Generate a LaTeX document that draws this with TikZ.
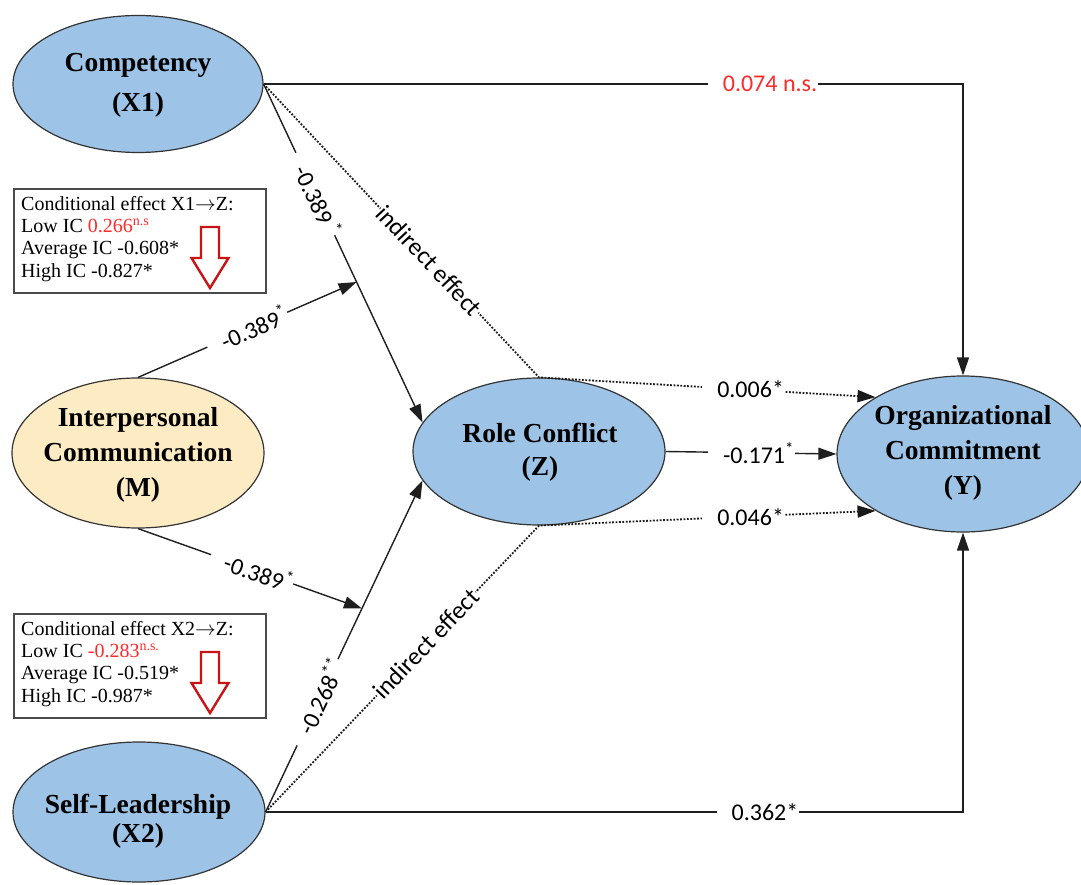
\documentclass[tikz,border=0pt]{standalone}
\usepackage{fontspec}
\setmainfont{Liberation Serif}
\newfontfamily\lblfont{Carlito}
\usetikzlibrary{arrows.meta,shapes.geometric,calc}
\definecolor{nodeblue}{HTML}{9DC3E6}
\definecolor{nodetan}{HTML}{FDEBC3}
\definecolor{edgegray}{HTML}{333333}
\definecolor{nsred}{HTML}{FF2A2A}
\definecolor{arrowred}{HTML}{C81414}
\definecolor{boxgray}{HTML}{4A4A4A}
\tikzset{
  latent/.style={ellipse, draw=edgegray, line width=1.2pt, fill=nodeblue, inner sep=0pt},
  ntext/.style={align=center, font=\bfseries\fontsize{27.5}{#1}\selectfont, inner sep=0pt},
  ntext/.default=35,
  con/.style={line width=1.4pt, draw=black!88},
  arrowend/.style={-{Triangle[length=18pt,width=12pt]}},
  dotline/.style={line width=1.8pt, dash pattern=on 1.8pt off 1.6pt, draw=black!90},
  lbl/.style={font=\lblfont\fontsize{24}{26}\selectfont, fill=white, inner sep=1pt},
  lblpad/.style={lbl, execute at begin node={\hspace*{14pt}}},
  cbox/.style={draw=boxgray, line width=2pt, fill=white, anchor=north west,
    minimum width=252pt, minimum height=104pt, inner sep=0pt},
  btext/.style={font=\fontsize{20}{22}\selectfont, anchor=base west, inner sep=0pt},
  hollow/.style={draw=arrowred, line width=2.4pt, fill=white, line join=miter}
}
\begin{document}
\begin{tikzpicture}[x=1pt,y=-1pt]
\useasboundingbox (0,0) rectangle (1081,885);
% latent variables
\node[latent, minimum width=250pt, minimum height=137pt] (X1) at (138,84) {};
\node[latent, fill=nodetan, minimum width=252pt, minimum height=150pt] (M) at (138,453) {};
\node[latent, minimum width=252pt, minimum height=140pt] (X2) at (139,812) {};
\node[latent, minimum width=252pt, minimum height=147pt] (Z) at (539,451.5) {};
\node[latent, minimum width=252pt, minimum height=156pt] (Y) at (963,454) {};
\node[ntext=40] (X1t) at (138,85) {Competency\\(X1)};
\node[ntext=35] (Mt) at (138,455) {Interpersonal\\Communication\\(M)};
\node[ntext=29] (X2t) at (138,821) {Self-Leadership\\(X2)};
\node[ntext=33] (Zt) at (540,452) {Role Conflict\\(Z)};
\node[ntext=35] (Yt) at (963,453) {Organizational\\Commitment\\(Y)};
% moderation targets
\coordinate (p1) at ($(X1.east)!0.585!(Z.166)$);
\coordinate (p2) at ($(X2.east)!0.614!(Z.194)$);
% paths
\draw[con, arrowend] (X1.east) -- node[lblpad, sloped, pos=0.325]{-0.389\,\textsuperscript{*}} (Z.166);
\draw[con, arrowend] (M.north) -- node[lblpad, sloped, pos=0.5]{-0.389\textsuperscript{*}} (p1);
\draw[con, arrowend] (M.south) -- node[lblpad, sloped, pos=0.51]{-0.389\textsuperscript{*}} (p2);
\draw[con, arrowend] (X2.east) -- node[lblpad, sloped, pos=0.331]{-0.268\textsuperscript{**}} (Z.194);
\draw[con, arrowend] (Z.east) -- node[lblpad, pos=0.503]{-0.171\textsuperscript{*}} (Y.west);
\draw[con, arrowend] (X1.east) -- node[lblpad, text=nsred, pos=0.714]{0.074 n.s.} (X1.east -| Y.north) -- (Y.north);
\draw[con, arrowend] (X2.east) -- node[lblpad, pos=0.706]{0.362*} (X2.east -| Y.south) -- (Y.south);
\draw[dotline, arrowend] (X1.east) -- node[lbl, sloped, pos=0.602, font=\lblfont\fontsize{25}{26}\selectfont]{indirect effect} (Z.north) -- node[lblpad, pos=0.608]{0.006*} (Y.147);
\draw[dotline, arrowend] (X2.east) -- node[lbl, sloped, pos=0.587, font=\lblfont\fontsize{25}{26}\selectfont]{indirect effect} (Z.south) -- node[lblpad, pos=0.608]{0.046*} (Y.213);
% conditional effect boxes
\node[cbox] (B1) at (13,188) {};
\node[btext] (B1a) at (21,210.5) {Conditional effect X1$\rightarrow$Z:};
\node[btext] (B1b) at (21,232.7) {Low IC \textcolor{nsred}{0.266\textsuperscript{n.s}}};
\node[btext] (B1c) at (21,254.9) {Average IC -0.608*};
\node[btext] (B1d) at (21,277.1) {High IC -0.827*};
\draw[hollow] (201,227) -- (219,227) -- (219,258) -- (228.5,258) -- (210,288) -- (191.5,258) -- (201,258) -- cycle;
\node[cbox] (B2) at (13,613) {};
\node[btext] (B2a) at (21,635.5) {Conditional effect X2$\rightarrow$Z:};
\node[btext] (B2b) at (21,657.7) {Low IC \textcolor{nsred}{-0.283\textsuperscript{n.s.}}};
\node[btext] (B2c) at (21,679.9) {Average IC -0.519*};
\node[btext] (B2d) at (21,702.1) {High IC -0.987*};
\draw[hollow] (201,652) -- (219,652) -- (219,683) -- (228.5,683) -- (210,713) -- (191.5,683) -- (201,683) -- cycle;
\end{tikzpicture}
\end{document}
